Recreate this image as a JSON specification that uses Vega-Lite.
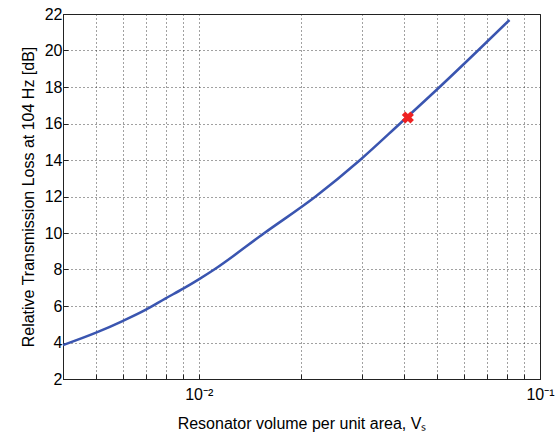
{
  "$schema": "https://vega.github.io/schema/vega-lite/v6.json",
  "width": 477,
  "height": 365,
  "autosize": "none",
  "padding": {"left": 63, "top": 14, "right": 18, "bottom": 59},
  "background": "white",
  "config": {
    "font": "Liberation Sans",
    "view": {"stroke": "#222", "strokeWidth": 1},
    "axis": {
      "labelFont": "Liberation Sans",
      "titleFont": "Liberation Sans",
      "labelColor": "black",
      "titleColor": "black",
      "titleFontWeight": "normal",
      "domainColor": "#222",
      "tickColor": "#222",
      "gridColor": "#222",
      "gridDash": [1, 3],
      "gridOpacity": 0.85,
      "gridWidth": 1
    }
  },
  "datasets": {
    "curve": [
      {"vs": 0.004, "tl": 3.86},
      {"vs": 0.005, "tl": 4.54},
      {"vs": 0.006, "tl": 5.19},
      {"vs": 0.007, "tl": 5.8},
      {"vs": 0.008, "tl": 6.42},
      {"vs": 0.009, "tl": 6.95},
      {"vs": 0.01, "tl": 7.46},
      {"vs": 0.0111, "tl": 8.0},
      {"vs": 0.01557, "tl": 10.0},
      {"vs": 0.022, "tl": 12.0},
      {"vs": 0.0297, "tl": 14.0},
      {"vs": 0.0389, "tl": 16.0},
      {"vs": 0.0508, "tl": 18.0},
      {"vs": 0.0658, "tl": 20.0},
      {"vs": 0.0814, "tl": 21.67}
    ],
    "marker": [
      {"vs": 0.041, "tl": 16.33}
    ]
  },
  "encoding": {
    "x": {
      "field": "vs",
      "type": "quantitative",
      "scale": {"type": "log", "domain": [0.004, 0.1], "nice": false},
      "axis": {
        "title": "Resonator volume per unit area, Vₛ",
        "titleFontSize": 16,
        "titlePadding": 13,
        "values": [0.005, 0.006, 0.007, 0.008, 0.009, 0.01, 0.02, 0.03, 0.04, 0.05, 0.06, 0.07, 0.08, 0.09, 0.1],
        "labelExpr": "abs(datum.value - 0.01) < 1e-9 ? '10⁻²' : (abs(datum.value - 0.1) < 1e-9 ? '10⁻¹' : '')",
        "labelFontSize": 16,
        "labelOverlap": false,
        "labelFlush": false,
        "labelPadding": 12,
        "labelDx": 3,
        "tickSize": -5,
        "grid": true
      }
    },
    "y": {
      "field": "tl",
      "type": "quantitative",
      "scale": {"domain": [2, 22], "nice": false, "zero": false},
      "axis": {
        "title": "Relative Transmission Loss at 104 Hz [dB]",
        "titleFontSize": 16,
        "titlePadding": 8,
        "values": [2, 4, 6, 8, 10, 12, 14, 16, 18, 20, 22],
        "labelFontSize": 16,
        "labelOverlap": false,
        "labelFlush": false,
        "labelPadding": 6,
        "tickSize": -5,
        "grid": true
      }
    }
  },
  "layer": [
    {
      "data": {"name": "curve"},
      "mark": {"type": "line", "color": "#3a55b0", "strokeWidth": 2.5, "interpolate": "monotone"}
    },
    {
      "data": {"name": "marker"},
      "mark": {"type": "point", "shape": "cross", "angle": 45, "filled": true, "color": "#ee2222", "size": 150, "opacity": 1}
    }
  ]
}
